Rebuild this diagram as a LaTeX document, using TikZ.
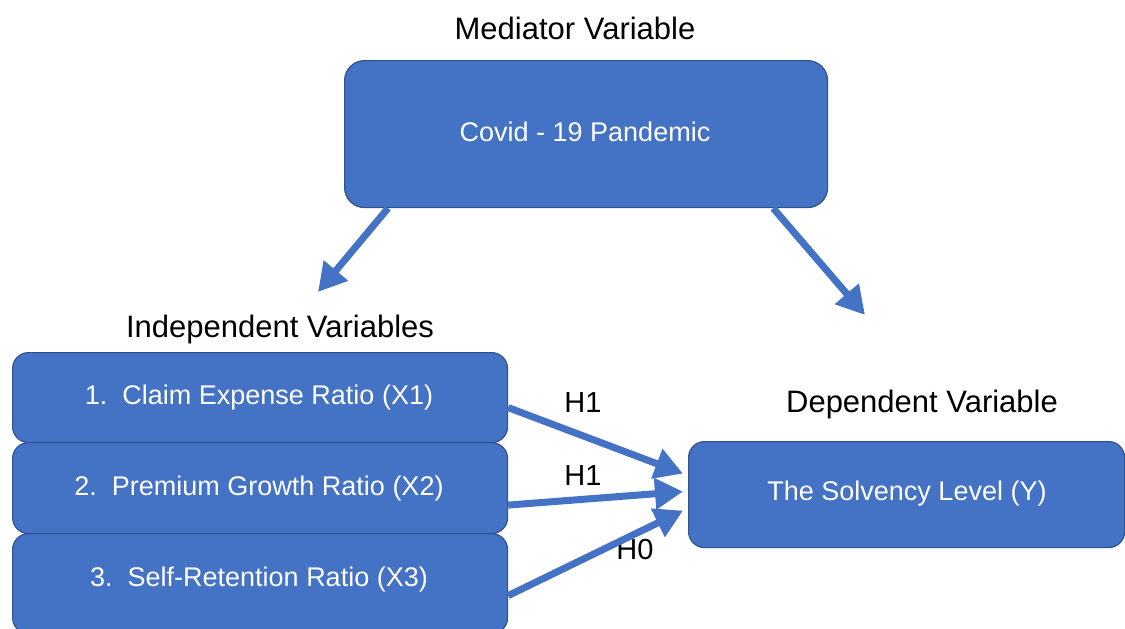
\documentclass[tikz,border=0pt]{standalone}
\usepackage{fontspec}
\setmainfont{Liberation Sans}
\usetikzlibrary{arrows.meta,calc}
\definecolor{boxblue}{HTML}{4472C4}
\definecolor{boxedge}{HTML}{2F528F}
\tikzset{
  varbox/.style={draw=boxedge, line width=1.2pt, fill=boxblue, rounded corners=16pt,
    inner sep=0pt, anchor=north west},
  boxtext/.style={text=white, font=\fontsize{27}{30}\selectfont, inner sep=0pt},
  heading/.style={font=\fontsize{31}{34}\selectfont, text=black, inner sep=0pt},
  hyp/.style={font=\fontsize{29}{32}\selectfont, text=black, inner sep=0pt},
  link/.style={draw=boxblue, line width=7pt,
    -{Triangle[length=28pt, width=30pt]}}
}
\begin{document}
\begin{tikzpicture}[x=1pt, y=-1pt]
  \useasboundingbox (0,0) rectangle (1125,629);
  \clip (0,0) rectangle (1125,629);

  % mediator
  \node[heading] (medlab) at (575,28) {Mediator Variable};
  \node[varbox, rounded corners=20pt, minimum width=483pt, minimum height=147pt] (covid) at (344,60) {};
  \node[boxtext] (covidtxt) at (585,132) {Covid - 19 Pandemic};

  % independent variables
  \node[heading] (indlab) at (280,329) {Independent Variables};
  \node[varbox, minimum width=495pt, minimum height=90pt] (b1) at (12,352) {};
  \node[varbox, minimum width=495pt, minimum height=91pt] (b2) at (12,442) {};
  \node[varbox, minimum width=495pt, minimum height=100pt] (b3) at (12,533) {};
  \node[boxtext] (t1) at (259,398) {1.\ \ Claim Expense Ratio (X1)};
  \node[boxtext] (t2) at (259,489) {2.\ \ Premium Growth Ratio (X2)};
  \node[boxtext] (t3) at (259,580) {3.\ \ Self-Retention Ratio (X3)};

  % dependent variable
  \node[heading] (deplab) at (922,404) {Dependent Variable};
  \node[varbox, minimum width=436pt, minimum height=106pt] (dep) at (688,441) {};
  \node[boxtext] (deptxt) at (907,494) {The Solvency Level (Y)};

  % hypothesis labels
  \node[hyp] (h1a) at (583,403) {H1};
  \node[hyp] (h1b) at (583,476) {H1};
  \node[hyp] (h0) at (635,550) {H0};

  % connector end points
  \coordinate (mL) at ($(covid.south west)+(44,0)$);
  \coordinate (mR) at ($(covid.south east)+(-55,0)$);
  \coordinate (tipL) at (318,292);
  \coordinate (tipR) at (865,315);
  \coordinate (s1) at ($(b1.east)+(0,10)$);
  \coordinate (s2) at ($(b2.east)+(0,17)$);
  \coordinate (s3) at ($(b3.east)+(0,12)$);
  \coordinate (e1) at ($(dep.west)+(-5,-21)$);
  \coordinate (e2) at ($(dep.west)+(-5,-3)$);
  \coordinate (e3) at ($(dep.west)+(-5,16)$);

  \draw[link] (mL) -- (tipL);
  \draw[link] (mR) -- (tipR);
  \draw[link] (s1) -- (e1);
  \draw[link] (s2) -- (e2);
  \draw[link] (s3) -- (e3);
\end{tikzpicture}
\end{document}
